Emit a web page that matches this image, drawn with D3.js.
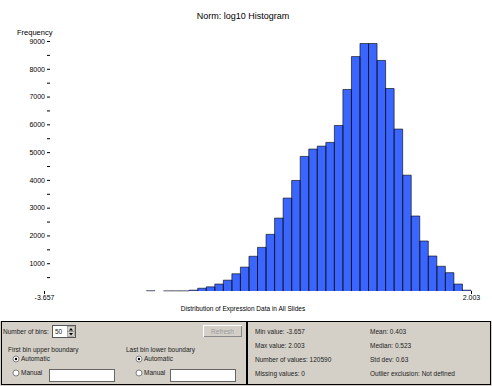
<!DOCTYPE html>
<html>
<head>
<meta charset="utf-8">
<script src="https://cdn.jsdelivr.net/npm/d3@7"></script>
<style>
  body { margin: 0; background: #fff; }
  text { font-family: "Liberation Sans", Arial, sans-serif; }
</style>
</head>
<body>
<svg id="chart"></svg>
<script>
// histogram data (50 bins between min and max)
var minValue = -3.657
var maxValue = 2.003
var binCounts = [0, 0, 0, 0, 0, 0, 0, 0, 0, 0, 0, 0,
                 8, 0, 5, 5, 5, 30, 100, 150, 250, 390, 620, 860,
                 1250, 1570, 2040, 2625, 3345, 3980, 4845, 5110, 5215, 5350,
                 5960, 7255, 8440, 8910, 8910, 8300, 7290, 5830, 4170, 2700,
                 1800, 1260, 890, 660, 250, 30]
var yTicks = [1000, 2000, 3000, 4000, 5000, 6000, 7000, 8000, 9000]
var yMinorTicks = [500, 1500, 2500, 3500, 4500, 5500, 6500, 7500, 8500]
var xTickLabels = ["-3.657", "2.003"]

// panel texts
var statsLeft = ["Min value: -3.657", "Max value: 2.003", "Number of values: 120590", "Missing values: 0"]
var statsRight = ["Mean: 0.403", "Median: 0.523", "Std dev: 0.63", "Outlier exclusion: Not defined"]

var width = 492, height = 386
var barColor = "#3a66ff"
var panelColor = "#d4d0c8"
var textColor = "#222"

var svg = d3.select("#chart")
    .attr("width", width)
    .attr("height", height)

var binWidth = (maxValue - minValue) / binCounts.length
var bins = binCounts.map((c, i) => ({x0: minValue + i * binWidth, x1: minValue + (i + 1) * binWidth, count: c}))

var x = d3.scaleLinear().domain([minValue, maxValue]).range([44, 471])
var y = d3.scaleLinear().domain([0, 9000]).range([291, 41])

//title
svg.append("text")
   .attr("x", 243).attr("y", 19)
   .attr("text-anchor", "middle")
   .attr("font-size", 9)
   .attr("fill", "#000")
   .text("Norm: log10 Histogram")

svg.append("text")
   .attr("x", 17).attr("y", 35)
   .attr("font-size", 7.5)
   .attr("fill", "#000")
   .text("Frequency")

//bars: blue fill, thin outline on top and sides
var shown = bins.filter(d => d.count > 0)
var bars = svg.append("g")
bars.selectAll("rect")
   .data(shown)
   .enter()
   .append("rect")
   .attr("x", d => x(d.x0))
   .attr("width", d => x(d.x1) - x(d.x0))
   .attr("y", d => y(d.count))
   .attr("height", d => y(0) - y(d.count))
   .attr("fill", barColor)
bars.selectAll("path")
   .data(shown)
   .enter()
   .append("path")
   .attr("d", d => `M${x(d.x0)},${y(0)}V${y(d.count)}H${x(d.x1)}V${y(0)}`)
   .attr("fill", "none")
   .attr("stroke", "#000")
   .attr("stroke-width", 0.6)

//y axis (no domain line)
var yAxis = d3.axisLeft(y).tickValues(yTicks).tickSize(3).tickPadding(2).tickFormat(d3.format("d"))
var gy = svg.append("g")
   .attr("transform", "translate(50,0)")
   .call(yAxis)
gy.select(".domain").remove()
gy.selectAll("text").attr("font-size", 7).attr("fill", "#000").attr("font-family", "Liberation Sans, Arial, sans-serif")
svg.append("g")
   .attr("transform", "translate(50,0)")
   .call(d3.axisLeft(y).tickValues(yMinorTicks).tickSize(3).tickFormat(""))
   .select(".domain").remove()

//x axis, only end ticks
var gx = svg.append("g")
   .attr("transform", "translate(0,291)")
   .call(d3.axisBottom(x).tickValues([minValue, maxValue]).tickSize(3).tickPadding(1)
           .tickFormat((d, i) => xTickLabels[i]))
gx.select(".domain").remove()
gx.selectAll("text").attr("font-size", 7).attr("fill", "#000").attr("font-family", "Liberation Sans, Arial, sans-serif")

svg.append("text")
   .attr("x", 243).attr("y", 311)
   .attr("text-anchor", "middle")
   .attr("font-size", 6.5)
   .attr("fill", "#000")
   .text("Distribution of Expression Data in All Slides")

//bottom control panel
var panelTop = 321
svg.append("rect")
   .attr("x", 0).attr("y", panelTop)
   .attr("width", width).attr("height", height - panelTop)
   .attr("fill", panelColor)
svg.append("rect")
   .attr("x", 1.5).attr("y", panelTop + 0.5)
   .attr("width", 245).attr("height", 63)
   .attr("fill", "none").attr("stroke", "#000")
svg.append("rect")
   .attr("x", 247.5).attr("y", panelTop + 0.5)
   .attr("width", 243).attr("height", 63)
   .attr("fill", "none").attr("stroke", "#000")

var panelText = function(tx, ty, s, col) {
    return svg.append("text")
       .attr("x", tx).attr("y", ty)
       .attr("font-size", 6.5)
       .attr("fill", col || textColor)
       .text(s)
}

//number of bins spinner
panelText(3, 334, "Number of bins:")
svg.append("rect").attr("x", 52.5).attr("y", 325.5).attr("width", 23).attr("height", 12)
   .attr("fill", "#fff").attr("stroke", "#555")
panelText(55, 334, "50")
svg.append("rect").attr("x", 67.5).attr("y", 326.5).attr("width", 7).attr("height", 5)
   .attr("fill", panelColor).attr("stroke", "#777").attr("stroke-width", 0.5)
svg.append("rect").attr("x", 67.5).attr("y", 331.5).attr("width", 7).attr("height", 5)
   .attr("fill", panelColor).attr("stroke", "#777").attr("stroke-width", 0.5)
svg.append("path").attr("d", "M69,330.5 L71,328 L73,330.5 Z").attr("fill", "#000")
svg.append("path").attr("d", "M69,333 L71,335.5 L73,333 Z").attr("fill", "#000")

//refresh button (disabled)
svg.append("rect").attr("x", 203.5).attr("y", 325.5).attr("width", 38).attr("height", 11)
   .attr("fill", panelColor).attr("stroke", "#fff")
svg.append("line").attr("x1", 204).attr("x2", 242).attr("y1", 336.5).attr("y2", 336.5).attr("stroke", "#888")
svg.append("line").attr("x1", 241.5).attr("x2", 241.5).attr("y1", 326).attr("y2", 337).attr("stroke", "#888")
panelText(222.5, 333.5, "Refresh", "#999").attr("text-anchor", "middle")

var boundaryGroups = [
    {label: "First bin upper boundary", x: 8, radioX: 16, fieldX: 49},
    {label: "Last bin lower boundary", x: 126, radioX: 139, fieldX: 170}
]
boundaryGroups.forEach(function(g) {
    panelText(g.x, 352, g.label)
    ;[{label: "Automatic", yy: 361, on: true}, {label: "Manual", yy: 375, on: false}].forEach(function(r) {
        svg.append("circle").attr("cx", g.radioX).attr("cy", r.yy - 2).attr("r", 3)
           .attr("fill", "#fff").attr("stroke", "#666").attr("stroke-width", 0.8)
        if (r.on) svg.append("circle").attr("cx", g.radioX).attr("cy", r.yy - 2).attr("r", 1.2).attr("fill", "#000")
        panelText(g.radioX + 5, r.yy, r.label)
    })
    svg.append("rect").attr("x", g.fieldX + 0.5).attr("y", 369.5).attr("width", 65).attr("height", 12)
       .attr("fill", "#fff").attr("stroke", "#666")
})

//summary statistics
statsLeft.forEach((s, i) => panelText(255, 334 + i * 14, s))
statsRight.forEach((s, i) => panelText(370, 334 + i * 14, s))
</script>
</body>
</html>
